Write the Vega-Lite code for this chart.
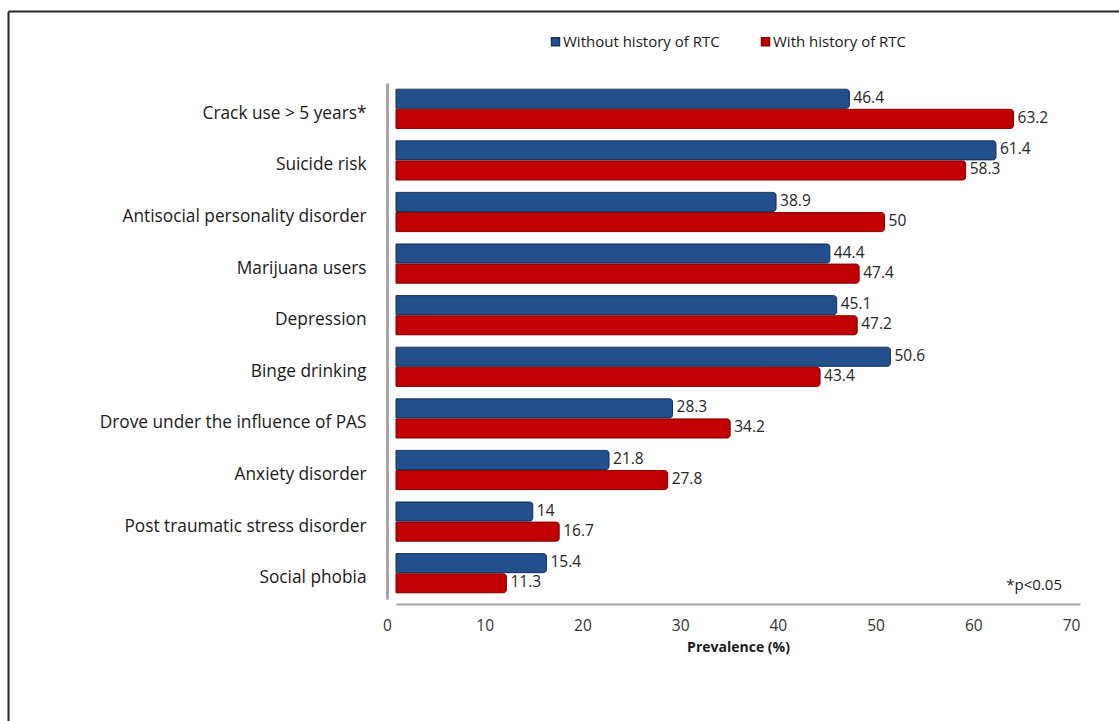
{
  "$schema": "https://vega.github.io/schema/vega-lite/v6.json",
  "width": 1111,
  "height": 710,
  "autosize": {"type": "none"},
  "padding": {"left": 8, "top": 11, "right": 0, "bottom": 0},
  "view": {"stroke": null},
  "config": {
    "font": "Open Sans",
    "legend": {
      "orient": "none",
      "legendX": 540,
      "legendY": 23,
      "direction": "horizontal",
      "symbolType": "square",
      "symbolSize": 64,
      "labelFontSize": 15,
      "labelColor": "#1a1a1a",
      "columnPadding": 38,
      "labelOffset": 0,
      "padding": 0
    }
  },
  "data": {
    "values": [
      {"item": "Crack use > 5 years*", "group": "Without history of RTC", "value": 46.4},
      {"item": "Crack use > 5 years*", "group": "With history of RTC", "value": 63.2},
      {"item": "Suicide risk", "group": "Without history of RTC", "value": 61.4},
      {"item": "Suicide risk", "group": "With history of RTC", "value": 58.3},
      {"item": "Antisocial personality disorder", "group": "Without history of RTC", "value": 38.9},
      {"item": "Antisocial personality disorder", "group": "With history of RTC", "value": 50},
      {"item": "Marijuana users", "group": "Without history of RTC", "value": 44.4},
      {"item": "Marijuana users", "group": "With history of RTC", "value": 47.4},
      {"item": "Depression", "group": "Without history of RTC", "value": 45.1},
      {"item": "Depression", "group": "With history of RTC", "value": 47.2},
      {"item": "Binge drinking", "group": "Without history of RTC", "value": 50.6},
      {"item": "Binge drinking", "group": "With history of RTC", "value": 43.4},
      {"item": "Drove under the influence of PAS", "group": "Without history of RTC", "value": 28.3},
      {"item": "Drove under the influence of PAS", "group": "With history of RTC", "value": 34.2},
      {"item": "Anxiety disorder", "group": "Without history of RTC", "value": 21.8},
      {"item": "Anxiety disorder", "group": "With history of RTC", "value": 27.8},
      {"item": "Post traumatic stress disorder", "group": "Without history of RTC", "value": 14},
      {"item": "Post traumatic stress disorder", "group": "With history of RTC", "value": 16.7},
      {"item": "Social phobia", "group": "Without history of RTC", "value": 15.4},
      {"item": "Social phobia", "group": "With history of RTC", "value": 11.3}
    ]
  },
  "resolve": {"scale": {"x": "independent", "y": "independent"}, "axis": {"x": "independent", "y": "independent"}},
  "layer": [
    {
      "mark": {"type": "bar", "cornerRadiusEnd": 3, "strokeWidth": 1},
      "encoding": {
        "y": {
          "field": "item", "type": "nominal", "sort": null,
          "scale": {"range": [72, 588], "paddingInner": 0.24, "paddingOuter": 0.12},
          "axis": {
            "orient": "left",
            "title": null,
            "domainColor": "#A6A6A6",
            "domainWidth": 3,
            "ticks": false,
            "labelPadding": 21,
            "labelFontSize": 17.3,
            "labelColor": "#1a1a1a",
            "offset": -379,
            "labelOffset": 5,
            "labelLimit": 400
          }
        },
        "yOffset": {
          "field": "group", "type": "nominal",
          "sort": ["Without history of RTC", "With history of RTC"],
          "scale": {"paddingInner": 0.05}
        },
        "x": {
          "field": "value", "type": "quantitative",
          "scale": {"domain": [0, 70], "range": [388, 1072], "nice": false},
          "axis": {
            "orient": "bottom",
            "title": "Prevalence (%)",
            "titleFontWeight": "bold",
            "titleFontSize": 14,
            "titleColor": "#1a1a1a",
            "titlePadding": 7,
            "offset": -117,
            "domainColor": "#A6A6A6",
            "domainWidth": 2,
            "ticks": false,
            "grid": false,
            "labelPadding": 14,
            "labelOffset": -9,
            "labelFontSize": 15.5,
            "labelColor": "#333333",
            "values": [0, 10, 20, 30, 40, 50, 60, 70],
            "labelFlush": false
          }
        },
        "color": {
          "field": "group", "type": "nominal",
          "sort": ["Without history of RTC", "With history of RTC"],
          "scale": {"domain": ["Without history of RTC", "With history of RTC"], "range": ["#23508C", "#C00000"]},
          "legend": {"title": null}
        },
        "stroke": {
          "field": "group", "type": "nominal",
          "scale": {"domain": ["Without history of RTC", "With history of RTC"], "range": ["#16365F", "#8B0000"]},
          "legend": null
        }
      }
    },
    {
      "mark": {"type": "text", "align": "left", "baseline": "middle", "dx": 4, "dy": -1, "fontSize": 15.5, "color": "#262626"},
      "encoding": {
        "y": {
          "field": "item", "type": "nominal", "sort": null,
          "scale": {"range": [72, 588], "paddingInner": 0.24, "paddingOuter": 0.12},
          "axis": null
        },
        "yOffset": {"field": "group", "type": "nominal", "sort": ["Without history of RTC", "With history of RTC"]},
        "x": {
          "field": "value", "type": "quantitative",
          "scale": {"domain": [0, 70], "range": [388, 1072], "nice": false},
          "axis": null
        },
        "text": {"field": "value", "type": "nominal"}
      }
    },
    {
      "data": {"values": [{"note": "*p<0.05", "pos": 70, "cat": "Social phobia"}]},
      "mark": {"type": "text", "align": "right", "baseline": "middle", "dx": -18, "dy": 12, "fontSize": 15, "color": "#1a1a1a"},
      "encoding": {
        "x": {
          "field": "pos", "type": "quantitative",
          "scale": {"domain": [0, 70], "range": [388, 1072], "nice": false},
          "axis": null
        },
        "y": {
          "field": "cat", "type": "nominal",
          "scale": {"domain": ["Crack use > 5 years*", "Suicide risk", "Antisocial personality disorder", "Marijuana users", "Depression", "Binge drinking", "Drove under the influence of PAS", "Anxiety disorder", "Post traumatic stress disorder", "Social phobia"], "range": [72, 588], "paddingInner": 0.24, "paddingOuter": 0.12},
          "axis": null
        },
        "text": {"field": "note", "type": "nominal"}
      }
    },
    {
      "data": {"values": [{"f": 0}]},
      "mark": {"type": "point", "opacity": 0},
      "encoding": {
        "x": {
          "field": "f", "type": "quantitative",
          "scale": {"domain": [0, 1], "range": [0, 1111], "nice": false, "zero": false},
          "axis": {"orient": "top", "offset": 0, "title": null, "labels": false, "ticks": false, "grid": false, "domainColor": "#262626", "domainWidth": 2}
        },
        "y": {
          "field": "f", "type": "quantitative",
          "scale": {"domain": [0, 1], "range": [0, 710], "nice": false, "zero": false},
          "axis": {"orient": "left", "offset": 0, "title": null, "labels": false, "ticks": false, "grid": false, "domainColor": "#262626", "domainWidth": 2}
        }
      }
    }
  ]
}
